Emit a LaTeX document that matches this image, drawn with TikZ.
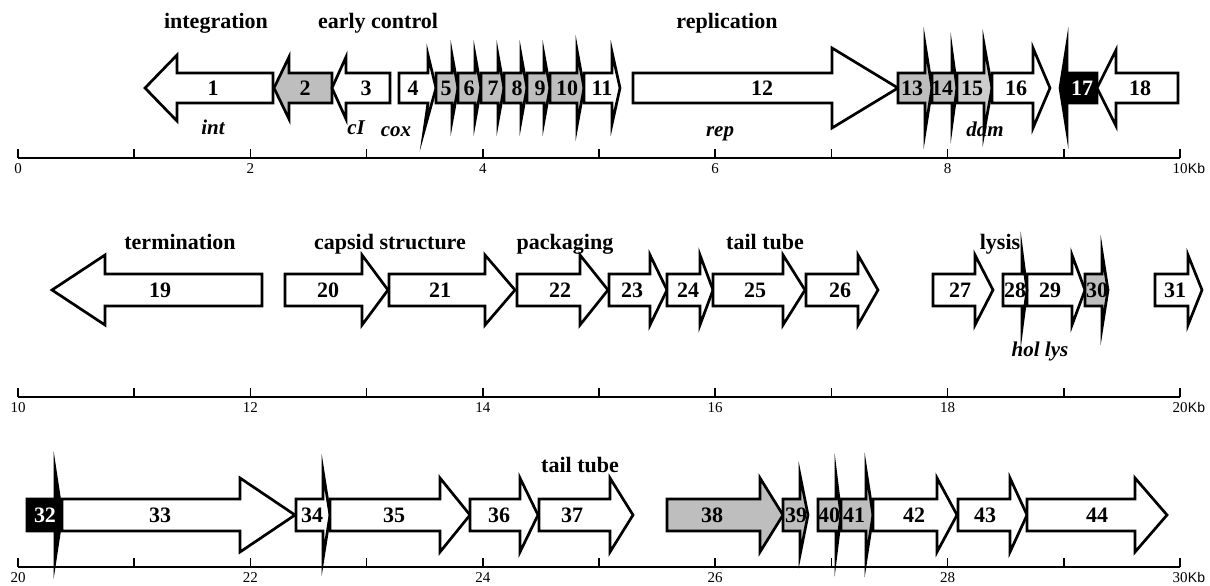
\documentclass[tikz,border=0pt]{standalone}
\usepackage{fontspec}
\setmainfont{Liberation Serif}
\setsansfont{Liberation Sans}
\definecolor{gA}{RGB}{190,190,190}
\definecolor{gB}{RGB}{205,205,205}
\tikzset{
  genebox/.style={draw=black, line width=2.7pt, line join=miter, miter limit=25},
  numlab/.style={font=\fontsize{22}{22}\selectfont\bfseries, inner sep=0pt},
  ttl/.style={font=\fontsize{22}{22}\selectfont\bfseries, inner sep=0pt, anchor=base},
  gname/.style={font=\fontsize{21}{21}\selectfont\bfseries\itshape, inner sep=0pt, anchor=base},
  axisline/.style={line width=1.8pt},
  tickline/.style={line width=1.5pt},
  axlab/.style={font=\fontsize{15}{15}\selectfont, inner sep=0pt, anchor=north},
  kblab/.style={font=\sffamily\fontsize{14}{14}\selectfont, inner sep=0pt, anchor=north west},
}
\newcommand\gene[8]{% name fill x0 xb xt hh lx label
  \filldraw[genebox, fill=#2] (#3,\yc-\hb) -- (#4,\yc-\hb) -- (#4,\yc-#6) -- (#5,\yc) -- (#4,\yc+#6) -- (#4,\yc+\hb) -- (#3,\yc+\hb) -- cycle;
  \node[numlab] (#1) at (#7,\yc) {#8};}
\newcommand\scaleaxis[3]{% y, first label, name
  \coordinate (#3a) at (18,#1);
  \coordinate (#3b) at (1180,#1);
  \draw[axisline] (#3a) -- (#3b);
  \foreach \k in {0,...,10} {\draw[tickline] (18+116.2*\k,#1) -- ++(0,-9);}
  \foreach \k in {0,2,4,6,8} {\pgfmathtruncatemacro\lab{#2+\k}\node[axlab] at (18+116.2*\k,#1+5) {\lab};}
  \pgfmathtruncatemacro\lab{#2+10}
  \node[axlab] (#3n) at (1180,#1+5) {\lab};
  \node[kblab] at (#3n.north east) {Kb};}
\begin{document}
\begin{tikzpicture}[x=1pt,y=-1pt]
\useasboundingbox (0,0) rectangle (1210,586);
% ---------- row 1 ----------
\node[ttl] (t1) at (216,29) {integration};
\node[ttl] (t2) at (378,29) {early control};
\node[ttl] (t3) at (727,29) {replication};
\def\yc{88}\def\hb{15}
\gene{g1}{white}{273}{177}{145}{33}{213}{1}
\gene{g2}{gA}{332}{289}{274}{31}{305}{2}
\gene{g3}{white}{390}{346}{332}{31}{366}{3}
\filldraw[genebox, fill=white] (399,73) -- (428,73) -- (428,55) -- (436,88) -- (424,131) -- (428,103) -- (399,103) -- cycle;
\node[numlab] (g4) at (413,88) {4};
\gene{g5}{gA}{436}{452}{458}{33}{446}{5}
\gene{g6}{gA}{458}{475}{481}{33}{469}{6}
\gene{g7}{gA}{481}{498}{504}{33}{493}{7}
\gene{g8}{gA}{504}{521}{527}{33}{517}{8}
\gene{g9}{gA}{527}{544}{550}{33}{540}{9}
\gene{g10}{gA}{550}{577}{584}{38}{567}{10}
\gene{g11}{white}{584}{612}{620}{36}{602}{11}
\gene{g12}{white}{633}{832}{898}{40}{762}{12}
\gene{g13}{gA}{898}{925}{932}{44}{912}{13}
\gene{g14}{gA}{932}{952}{957}{36}{942}{14}
\gene{g15}{gB}{957}{984}{992}{44}{972}{15}
\gene{g16}{white}{992}{1033}{1050}{40}{1016}{16}
\gene{g17}{black}{1097}{1067}{1060}{44}{1082}{\textcolor{white}{17}}
\gene{g18}{white}{1178}{1116}{1097}{38}{1140}{18}
\node[gname] (n1) at (213,134) {int};
\node[gname] (n2) at (356,134) {cI};
\node[gname] (n3) at (396,136) {cox};
\node[gname] (n4) at (720,136) {rep};
\node[gname] (n5) at (985,136) {dam};
\scaleaxis{158}{0}{ax1}
% ---------- row 2 ----------
\node[ttl] (t4) at (180,249) {termination};
\node[ttl] (t5) at (390,249) {capsid structure};
\node[ttl] (t6) at (565,249) {packaging};
\node[ttl] (t7) at (765,249) {tail tube};
\node[ttl] (t8) at (1000,249) {lysis};
\def\yc{290}\def\hb{16}
\gene{g19}{white}{262}{105}{52}{35}{160}{19}
\gene{g20}{white}{285}{362}{388}{35}{328}{20}
\gene{g21}{white}{389}{485}{515}{35}{440}{21}
\gene{g22}{white}{517}{580}{608}{35}{560}{22}
\gene{g23}{white}{609}{650}{667}{35}{632}{23}
\gene{g24}{white}{667}{700}{713}{35}{688}{24}
\gene{g25}{white}{713}{783}{805}{35}{755}{25}
\gene{g26}{white}{806}{858}{878}{35}{840}{26}
\gene{g27}{white}{933}{975}{993}{35}{960}{27}
\gene{g29}{white}{1027}{1072}{1085}{35}{1050}{29}
\gene{g28}{white}{1003}{1022}{1027}{38}{1015}{28}
\gene{g30}{gA}{1085}{1102}{1108}{38}{1097}{30}
\gene{g31}{white}{1155}{1188}{1202}{35}{1175}{31}
\node[gname] (n6) at (1040,356) {hol lys};
\scaleaxis{397}{10}{ax2}
% ---------- row 3 ----------
\node[ttl] (t9) at (580,472) {tail tube};
\def\yc{515}\def\hb{16}
\gene{g32}{black}{27}{55}{62}{46}{45}{\textcolor{white}{32}}
\gene{g33}{white}{62}{240}{295}{37}{160}{33}
\gene{g34}{white}{296}{323}{330}{44}{312}{34}
\gene{g35}{white}{330}{440}{470}{37}{394}{35}
\gene{g36}{white}{470}{520}{538}{37}{499}{36}
\gene{g37}{white}{539}{610}{633}{37}{572}{37}
\gene{g38}{gA}{667}{760}{783}{37}{712}{38}
\gene{g39}{gA}{783}{800}{808}{40}{796}{39}
\gene{g40}{gA}{818}{836}{841}{40}{829}{40}
\gene{g41}{gA}{841}{866}{873}{45}{854}{41}
\gene{g42}{white}{873}{937}{957}{37}{914}{42}
\gene{g43}{white}{958}{1010}{1027}{37}{985}{43}
\gene{g44}{white}{1027}{1135}{1167}{37}{1097}{44}
\scaleaxis{567}{20}{ax3}
\end{tikzpicture}
\end{document}
